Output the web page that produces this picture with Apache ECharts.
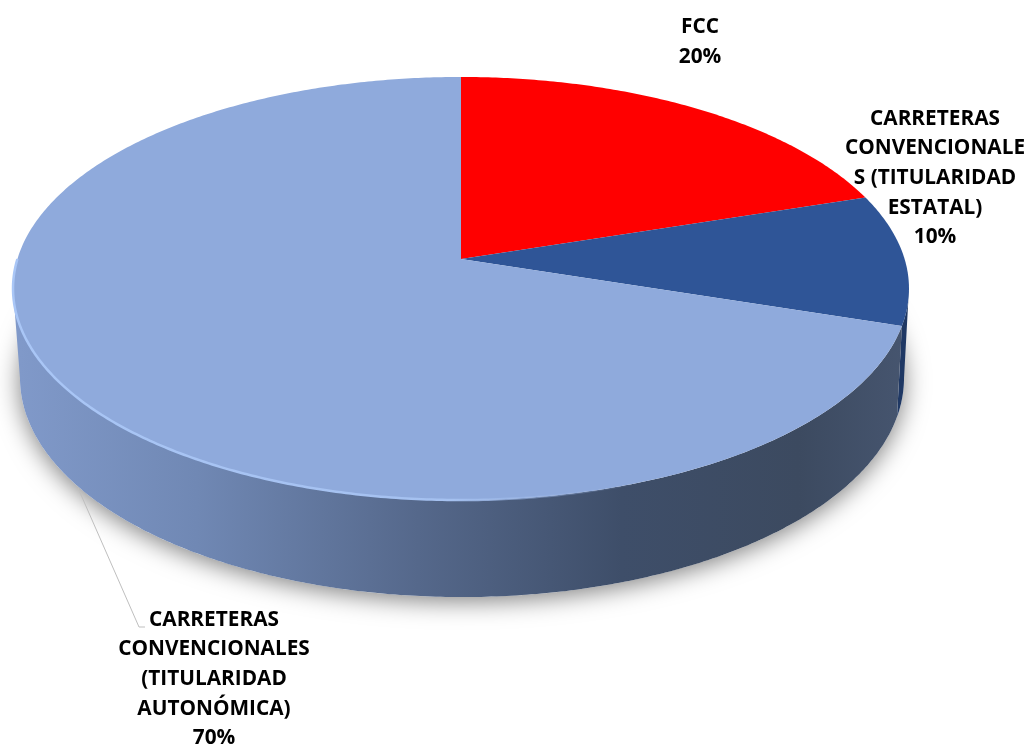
<!DOCTYPE html>
<html>
<head>
<meta charset="utf-8">
<title>Titularidad</title>
<style>
  html, body { margin: 0; padding: 0; background: #fff; }
  #main { width: 1027px; height: 747px; }
</style>
<script src="https://cdn.jsdelivr.net/npm/echarts@6/dist/echarts.min.js"></script>
</head>
<body>
<div id="main"></div>
<script>
const categories = ['FCC', 'CARRETERAS CONVENCIONALES (TITULARIDAD ESTATAL)', 'CARRETERAS CONVENCIONALES (TITULARIDAD AUTONÓMICA)'];
const values = [20, 10, 70];
const labelLines = [
  ['FCC'],
  ['CARRETERAS', 'CONVENCIONALE', 'S (TITULARIDAD', 'ESTATAL)'],
  ['CARRETERAS', 'CONVENCIONALES', '(TITULARIDAD', 'AUTONÓMICA)']
];
const topColors = ['#ff0000', '#2f5597', '#8faadc'];
const wallColors = ['#b00000', '#1f3864', null];

const FONT = 'bold 20.8px "Open Sans", "Noto Sans", sans-serif';
const total = values.reduce((a, b) => a + b, 0);

// slice start/end angle, clockwise from 12 o'clock
function sliceAngles(i) {
  let before = 0;
  for (let k = 0; k < i; k++) before += values[k];
  return [before / total * 2 * Math.PI, (before + values[i]) / total * 2 * Math.PI];
}

// top face seen in perspective: the pie centre is not the centre of the ellipse
const CX = 461, APEX_Y = 259, R = 443.6, K = 0.1395, A = 171.3;
function topPoint(t) {
  const d = 1 + K * Math.cos(t);
  return [CX + R * Math.sin(t) / d, (APEX_Y - A * Math.cos(t)) / d];
}
// same projection for the lower rim
function bottomPoint(t) {
  const d = 1 + K * Math.cos(t);
  return [462 + 437.7 * Math.sin(t) / d, (347.5 - 166.3 * Math.cos(t)) / d];
}
function arc(fn, a, b) {
  const pts = [];
  const n = Math.max(2, Math.ceil(Math.abs(b - a) / 0.01));
  for (let i = 0; i <= n; i++) pts.push(fn(a + (b - a) * i / n));
  return pts;
}

const wallGradient = {
  type: 'linear', global: true, x: 20, y: 0, x2: 905, y2: 0,
  colorStops: [
    { offset: 0, color: '#8099c9' },
    { offset: 0.2, color: '#7088b4' },
    { offset: 0.45, color: '#55688b' },
    { offset: 0.68, color: '#3e4e69' },
    { offset: 0.88, color: '#3c4a60' },
    { offset: 1, color: '#46556f' }
  ]
};
const rimGradient = {
  type: 'linear', global: true, x: 14, y: 0, x2: 640, y2: 0,
  colorStops: [
    { offset: 0, color: '#a9c6f6' },
    { offset: 0.7, color: '#a5c1f0' },
    { offset: 1, color: 'rgba(143,170,220,0)' }
  ]
};

// the walls run between the widest points of the rim
const VISIBLE_FROM = Math.acos(-K), VISIBLE_TO = 2 * Math.PI - Math.acos(-K);

const option = {
  animation: false,
  backgroundColor: '#fff',
  series: [
    {
      // soft shadow under the disc
      type: 'custom',
      coordinateSystem: 'none',
      silent: true,
      data: [1],
      renderItem: function () {
        return {
          type: 'polygon',
          shape: { points: arc(bottomPoint, 0, 2 * Math.PI) },
          style: {
            fill: '#fff',
            shadowBlur: 24,
            shadowColor: 'rgba(0,0,0,0.5)',
            shadowOffsetX: 0,
            shadowOffsetY: 4
          }
        };
      }
    },
    {
      // walls
      type: 'custom',
      coordinateSystem: 'none',
      silent: true,
      data: values,
      renderItem: function (params) {
        const ang = sliceAngles(params.dataIndex);
        const a = Math.max(ang[0], VISIBLE_FROM), b = Math.min(ang[1], VISIBLE_TO);
        if (a >= b) return null;
        return {
          type: 'polygon',
          shape: { points: arc(topPoint, a, b).concat(arc(bottomPoint, b, a)) },
          style: { fill: wallColors[params.dataIndex] || wallGradient }
        };
      }
    },
    {
      // top faces
      type: 'custom',
      coordinateSystem: 'none',
      silent: true,
      data: values,
      renderItem: function (params) {
        const ang = sliceAngles(params.dataIndex);
        return {
          type: 'polygon',
          shape: { points: [[CX, APEX_Y]].concat(arc(topPoint, ang[0], ang[1])) },
          style: { fill: topColors[params.dataIndex] }
        };
      }
    },
    {
      // bevel highlight on the front edge of the big slice
      type: 'custom',
      coordinateSystem: 'none',
      silent: true,
      data: [1],
      renderItem: function () {
        return {
          type: 'polyline',
          shape: { points: arc(topPoint, Math.PI * 1.5, Math.PI * 0.85) },
          style: { fill: 'none', stroke: rimGradient, lineWidth: 2.5 }
        };
      }
    },
    {
      // labels and the single leader line
      type: 'custom',
      coordinateSystem: 'none',
      silent: true,
      data: values,
      renderItem: function (params) {
        const i = params.dataIndex;
        const anchors = [[700, 42], [935, 178], [214, 679]];
        const text = labelLines[i].concat(values[i] + '%').join('\n');
        const children = [{
          type: 'text',
          style: {
            text: text,
            x: anchors[i][0],
            y: anchors[i][1],
            align: 'center',
            verticalAlign: 'middle',
            font: FONT,
            lineHeight: 29.7,
            fill: '#000'
          }
        }];
        if (i === 2) {
          children.push({
            type: 'polyline',
            shape: { points: [[78, 488], [139, 627], [145, 627]] },
            style: { fill: 'none', stroke: '#bfbfbf', lineWidth: 1 }
          });
        }
        return { type: 'group', children: children };
      }
    }
  ]
};

const chart = echarts.init(document.getElementById('main'));
chart.setOption(option);
</script>
</body>
</html>
